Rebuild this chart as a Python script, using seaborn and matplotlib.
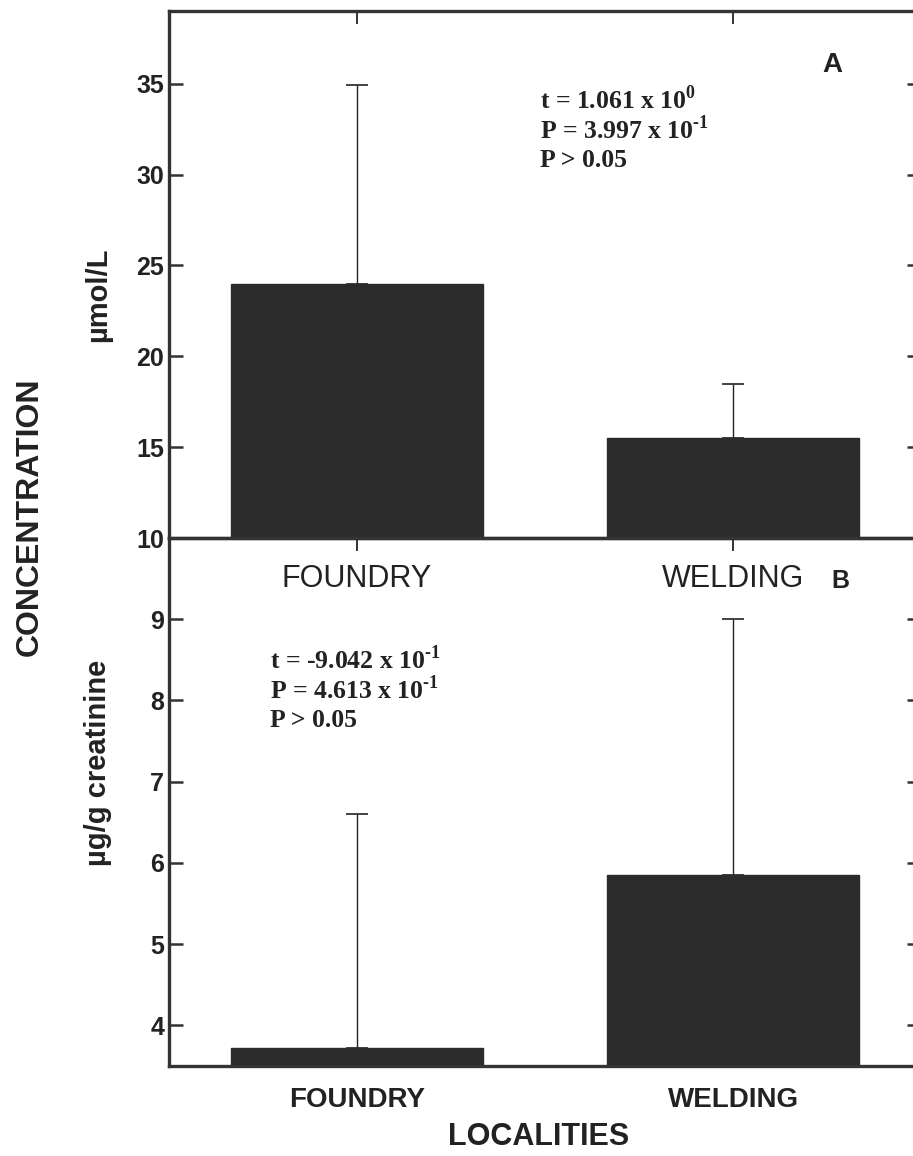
import numpy as np
import pandas as pd
import matplotlib
matplotlib.use("Agg")
import matplotlib.pyplot as plt
import seaborn as sns

# data
localities = ["FOUNDRY", "WELDING"]
urine_mean = [24.0, 15.5]      # umol/L, panel A
urine_sd = [10.9, 3.0]
creat_mean = [3.72, 5.85]      # ug/g creatinine, panel B
creat_sd = [2.88, 3.15]

stats_a = ["t = 1.061 x 10$^{\\mathbf{0}}$", "P = 3.997 x 10$^{\\mathbf{\\text{-}1}}$", "P > 0.05"]
stats_b = ["t = -9.042 x 10$^{\\mathbf{\\text{-}1}}$", "P = 4.613 x 10$^{\\mathbf{\\text{-}1}}$", "P > 0.05"]

sns.set_style("ticks")
plt.rcParams["font.family"] = ["Liberation Sans", "DejaVu Sans"]
plt.rcParams["mathtext.fontset"] = "custom"
plt.rcParams["mathtext.rm"] = "Liberation Serif:bold"
plt.rcParams["mathtext.bf"] = "Liberation Serif:bold"

bar_col = "#2b2b2b"
line_col = "#333333"
txt_col = "#222222"

fig = plt.figure(figsize=(9.13, 11.56), dpi=100)
ax_a = fig.add_axes([0.185, 0.5346, 0.824, 0.4559])
ax_b = fig.add_axes([0.185, 0.0779, 0.824, 0.4567])
ax_b.patch.set_alpha(0)

df_a = pd.DataFrame({"loc": localities, "val": urine_mean})
df_b = pd.DataFrame({"loc": localities, "val": creat_mean})

for ax, df, sd in [(ax_a, df_a, urine_sd), (ax_b, df_b, creat_sd)]:
    sns.barplot(data=df, x="loc", y="val", color=bar_col, saturation=1,
                width=0.67, errorbar=None, ax=ax, zorder=2)
    for p in ax.patches:
        p.set_edgecolor(bar_col)
    ax.errorbar(range(len(df)), df["val"], yerr=[np.zeros(len(sd)), sd],
                fmt="none", ecolor=txt_col, elinewidth=1.0, capsize=8,
                capthick=1.2, zorder=1)
    ax.set_xlim(-0.5, 1.5)
    ax.set_xlabel("")
    ax.set_ylabel("")
    for s in ax.spines.values():
        s.set_linewidth(2.4)
        s.set_color(line_col)
    ax.tick_params(axis="y", direction="in", length=10, width=1.8,
                   left=True, right=True, colors=line_col, labelcolor=txt_col)
    ax.tick_params(axis="x", direction="in", length=9, width=1.4,
                   top=True, bottom=True, colors=line_col, labelcolor=txt_col)

ax_a.set_ylim(10, 39)
ax_a.set_yticks([10, 15, 20, 25, 30, 35])
ax_a.set_yticklabels(["10", "15", "20", "25", "30", "35"], fontsize=18, fontweight="bold")
ax_a.set_xticks([0, 1])
ax_a.set_xticklabels(localities, fontsize=22)
ax_a.tick_params(axis="x", pad=19)

ax_b.set_ylim(3.5, 10)
ax_b.set_yticks([4, 5, 6, 7, 8, 9])
ax_b.set_yticklabels(["4", "5", "6", "7", "8", "9"], fontsize=18, fontweight="bold")
ax_b.set_xticks([0, 1])
ax_b.set_xticklabels(localities, fontsize=20, fontweight="bold")
ax_b.tick_params(axis="x", pad=15)

for i, s in enumerate(stats_a):
    ax_a.text(0.493, 0.831 - i * 0.057, s, transform=ax_a.transAxes,
              family="Liberation Serif", fontweight="bold", fontsize=18.5,
              va="center", ha="left", color=txt_col)
for i, s in enumerate(stats_b):
    ax_b.text(0.134, 0.769 - i * 0.057, s, transform=ax_b.transAxes,
              family="Liberation Serif", fontweight="bold", fontsize=18.5,
              va="center", ha="left", color=txt_col)

ax_a.text(0.882, 0.898, "A", transform=ax_a.transAxes, fontsize=20,
          fontweight="bold", ha="center", va="center", color=txt_col)
ax_b.text(0.893, 0.918, "B", transform=ax_b.transAxes, fontsize=18,
          fontweight="bold", ha="center", va="center", color=txt_col)

fig.text(0.033, 0.553, "CONCENTRATION", rotation=90, fontsize=23,
         fontweight="bold", ha="center", va="center", color=txt_col)
fig.text(0.107, 0.745, "µmol/L", rotation=90, fontsize=21,
         fontweight="bold", ha="center", va="center", color=txt_col)
fig.text(0.107, 0.34, "µg/g creatinine", rotation=90, fontsize=21,
         fontweight="bold", ha="center", va="center", color=txt_col)
fig.text(0.59, 0.0164, "LOCALITIES", fontsize=22, fontweight="bold",
         ha="center", va="center", color=txt_col)

fig.savefig("out.png", dpi=100)
